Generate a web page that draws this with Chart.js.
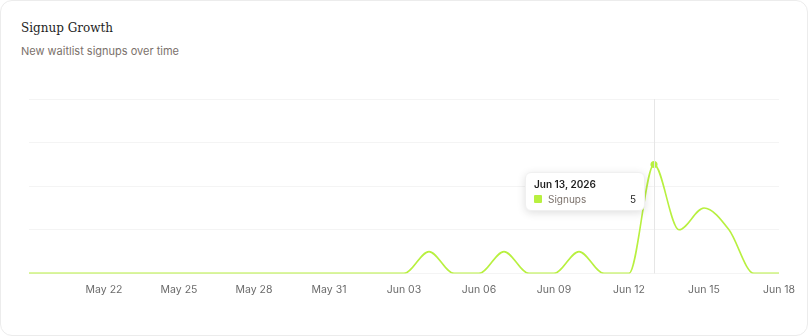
<!DOCTYPE html>
<html>
<head>
<meta charset="utf-8">
<script src="https://cdn.jsdelivr.net/npm/chart.js@4"></script>
<style>
  body { margin: 0; background: #fff; width: 808px; height: 336px; overflow: hidden; }
  .card { position: absolute; left: 0; top: 0; width: 806px; height: 334px; border: 1px solid #ececec; border-radius: 12px; background: #fff; }
  .title { position: absolute; left: 20px; top: 20px; font-family: "DejaVu Serif", serif; font-size: 12px; color: #1e1e1e; }
  .sub { position: absolute; left: 20px; top: 43px; font-family: Inter, sans-serif; font-size: 11px; color: #7b716b; }
  .wrap { position: absolute; left: 0; top: 90px; width: 806px; height: 207px; }
  #tip { position: absolute; background: #fff; border-radius: 6px; box-shadow: 0 2px 8px rgba(0,0,0,0.13); border: 1px solid #f0f0f0;
         font-family: Inter, sans-serif; padding: 5px 8px 5px 8px; pointer-events: none; min-width: 102px; }
  #tip .t { font-size: 10px; font-weight: 600; color: #1e1e1e; margin-bottom: 3px; }
  #tip .r { display: flex; align-items: center; font-size: 10px; }
  #tip .b { width: 8px; height: 8px; background: #b8f040; border-radius: 1px; margin-right: 6px; }
  #tip .n { color: #7b716b; flex: 1; }
  #tip .v { color: #1e1e1e; margin-left: 12px; }
</style>
</head>
<body>
<div class="card">
  <div class="title">Signup Growth</div>
  <div class="sub">New waitlist signups over time</div>
  <div class="wrap"><canvas id="myChart"></canvas><div id="tip" style="display:none"></div></div>
</div>
<script>
// data
var days = ["May 19","May 20","May 21","May 22","May 23","May 24","May 25","May 26","May 27","May 28",
  "May 29","May 30","May 31","Jun 01","Jun 02","Jun 03","Jun 04","Jun 05","Jun 06","Jun 07",
  "Jun 08","Jun 09","Jun 10","Jun 11","Jun 12","Jun 13","Jun 14","Jun 15","Jun 16","Jun 17","Jun 18"];
var signups = [0,0,0,0,0,0,0,0,0,0, 0,0,0,0,0,0,1,0,0,1, 0,0,1,0,0,5,2,3,2,0,0];
var year = "2026";
var lime = "#b8f040";

// vertical hover line
var hoverLine = {
  id: 'hoverLine',
  afterDatasetsDraw: function(chart) {
    var act = chart.tooltip.getActiveElements();
    if (!act.length) return;
    var x = act[0].element.x;
    var ctx = chart.ctx;
    ctx.save();
    ctx.strokeStyle = '#e6e6e6';
    ctx.lineWidth = 1;
    ctx.beginPath();
    ctx.moveTo(Math.round(x) + 0.5, chart.chartArea.top);
    ctx.lineTo(Math.round(x) + 0.5, chart.chartArea.bottom);
    ctx.stroke();
    ctx.restore();
  }
};

function htmlTip(context) {
  var tip = document.getElementById('tip');
  var model = context.tooltip;
  if (model.opacity === 0 || !model.dataPoints || !model.dataPoints.length) { tip.style.display = 'none'; return; }
  var dp = model.dataPoints[0];
  tip.innerHTML = '<div class="t">' + dp.label.replace(/ 0/, ' ') + ', ' + year + '</div>' +
    '<div class="r"><span class="b"></span><span class="n">Signups</span><span class="v">' + dp.raw + '</span></div>';
  tip.style.display = 'block';
  var el = dp.element;
  tip.style.left = (el.x - 9 - tip.offsetWidth) + 'px';
  tip.style.top = (el.y + 8) + 'px';
}

var config = {
  type: 'line',
  data: {
    labels: days,
    datasets: [{
      label: 'Signups',
      data: signups,
      borderColor: lime,
      backgroundColor: lime,
      borderWidth: 1.6,
      fill: false,
      cubicInterpolationMode: 'monotone',
      pointRadius: 0,
      pointHoverRadius: 3.5,
      pointHoverBorderWidth: 0,
      pointHoverBackgroundColor: lime
    }]
  },
  options: {
    responsive: true,
    maintainAspectRatio: false,
    animation: false,
    layout: { padding: { top: 8, left: 28, right: 28 } },
    plugins: {
      legend: { display: false },
      tooltip: { enabled: false, external: htmlTip, mode: 'index', intersect: false }
    },
    scales: {
      x: {
        grid: { display: false },
        border: { display: false },
        afterFit: function(s) { s.paddingLeft = 0; s.paddingRight = 0; },
        ticks: {
          autoSkip: false, maxRotation: 0, padding: 2,
          color: '#6b6b6b', font: { family: 'Inter', size: 10.5 },
          callback: function(v, i) { return (i >= 3 && i % 3 === 0) ? days[i] : ''; }
        }
      },
      y: {
        min: 0, max: 8,
        display: true,
        afterFit: function(s) { s.width = 0; },
        grid: { color: '#f4f4f4', drawTicks: false },
        border: { display: false },
        ticks: { display: false, stepSize: 2 }
      }
    }
  },
  plugins: [hoverLine]
};

var myChart = new Chart(document.getElementById('myChart'), config);
var pt = myChart.getDatasetMeta(0).data[25];
myChart.setActiveElements([{ datasetIndex: 0, index: 25 }]);
myChart.tooltip.setActiveElements([{ datasetIndex: 0, index: 25 }], { x: pt.x, y: pt.y });
myChart.update();
</script>
</body>
</html>
